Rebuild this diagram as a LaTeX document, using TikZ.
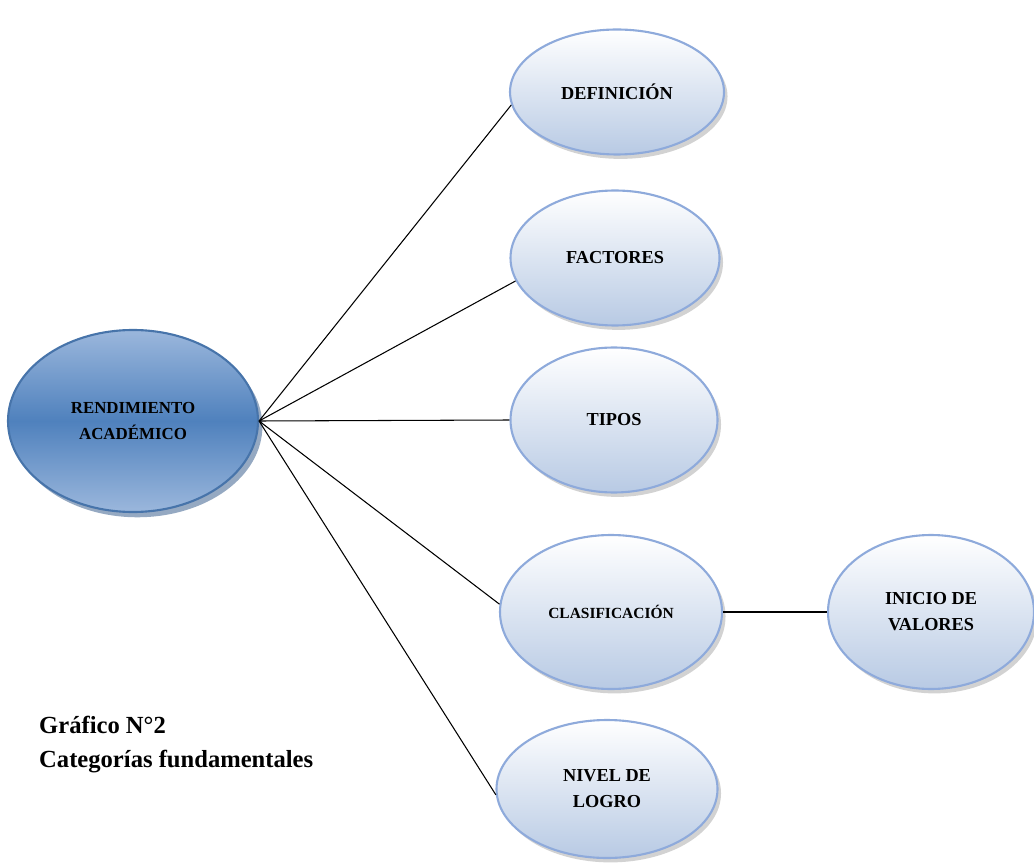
\documentclass[tikz,border=0pt]{standalone}
\usepackage{fontspec}
\setmainfont{Liberation Serif}
\usetikzlibrary{shadows, shapes.geometric}
\definecolor{rimblue}{HTML}{8EAADB}
\definecolor{lightfill}{HTML}{B8CAE4}
\definecolor{mainblue}{HTML}{4F81BD}
\definecolor{mainlight}{HTML}{9BB7DC}
\definecolor{maindark}{HTML}{2C5385}

\begin{document}
\begin{tikzpicture}[
    cat/.style={ellipse, draw=rimblue, line width=1.2pt, top color=white, bottom color=lightfill,
        font=\bfseries\fontsize{10.4}{14.8}\selectfont, align=center, inner sep=0pt,
        drop shadow={shadow xshift=2pt, shadow yshift=-2.5pt, fill=gray!70}},
    core/.style={ellipse, draw=mainblue!90!black, line width=1.2pt, top color=mainlight,
        bottom color=mainlight, middle color=mainblue,
        font=\bfseries\fontsize{9.6}{14.8}\selectfont, align=center, inner sep=0pt,
        drop shadow={shadow xshift=2.5pt, shadow yshift=-3pt, fill=maindark}},
    link/.style={semithick, black}]
    \useasboundingbox (0,0) rectangle (20.68,-17.36);
    \node[core, minimum width=5cm, minimum height=3.64cm] (rend) at (2.66,-8.42) {RENDIMIENTO\\ACADÉMICO};
    \node[cat, minimum width=4.28cm, minimum height=2.5cm] (def) at (12.34,-1.84) {DEFINICIÓN};
    \node[cat, minimum width=4.18cm, minimum height=2.7cm] (fac) at (12.30,-5.16) {FACTORES};
    \node[cat, minimum width=4.14cm, minimum height=2.9cm] (tip) at (12.28,-8.40) {TIPOS};
    \node[cat, minimum width=4.44cm, minimum height=3.08cm, font=\bfseries\fontsize{8.8}{10.5}\selectfont] (cla) at (12.22,-12.24) {CLASIFICACIÓN};
    \node[cat, minimum width=4.12cm, minimum height=3.08cm] (ini) at (18.62,-12.24) {INICIO DE\\VALORES};
    \node[cat, minimum width=4.42cm, minimum height=2.76cm] (niv) at (12.14,-15.78) {NIVEL DE\\LOGRO};
    \foreach \n/\a in {def/187,fac/193,tip/180,cla/176,niv/183}
        \draw[link] (rend.east) -- (\n.\a);
    \draw[link] (cla) -- (ini);
    \node[anchor=north west, align=left, font=\bfseries\fontsize{14}{19.5}\selectfont] (cap) at (0.66,-14.2)
        {Gráfico N°2\\Categorías fundamentales};
\end{tikzpicture}
\end{document}
